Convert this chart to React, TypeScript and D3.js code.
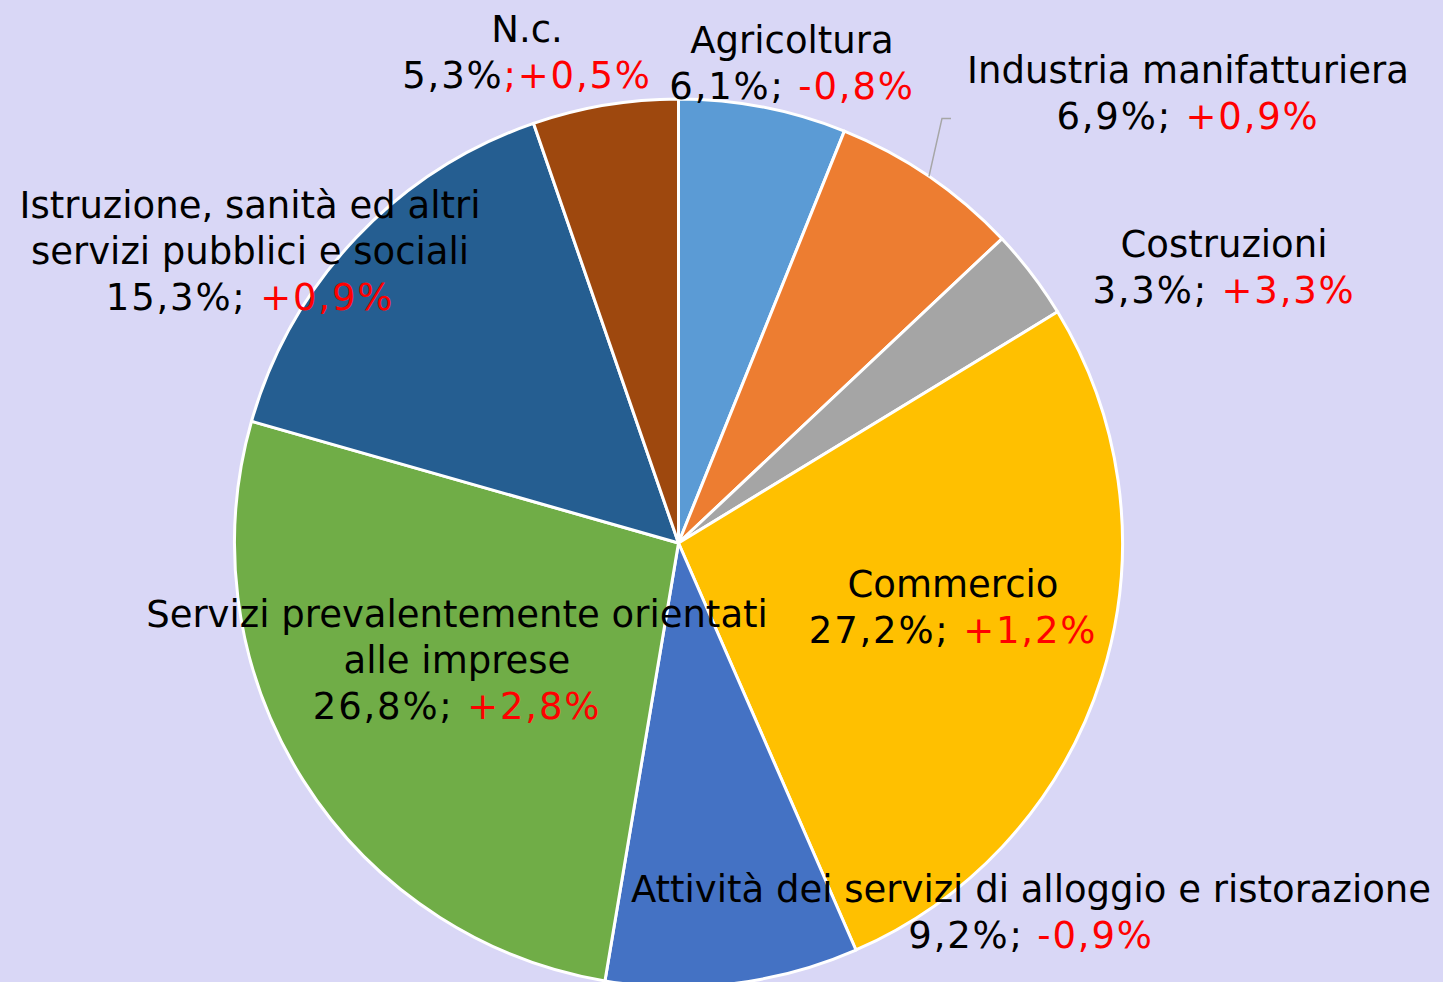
import React from 'react';
import * as d3 from 'd3';

// settori (ordine orario dall'alto)
const sectors = [
  'Agricoltura',
  'Industria manifatturiera',
  'Costruzioni',
  'Commercio',
  'Attività dei servizi di alloggio e ristorazione',
  'Servizi prevalentemente orientati alle imprese',
  'Istruzione, sanità ed altri servizi pubblici e sociali',
  'N.c.',
];
const shares = [6.1, 6.9, 3.3, 27.2, 9.2, 26.8, 15.3, 5.3];
const deltas = ['-0,8%', '+0,9%', '+3,3%', '+1,2%', '-0,9%', '+2,8%', '+0,9%', '+0,5%'];
const colors = ['#5B9BD5', '#ED7D31', '#A5A5A5', '#FFC000', '#4472C4', '#70AD47', '#255E91', '#9E480E'];

// etichette: righe del nome e separatore prima della variazione
const labelLines = [
  ['Agricoltura'],
  ['Industria manifatturiera'],
  ['Costruzioni'],
  ['Commercio'],
  ['Attività dei servizi di alloggio e ristorazione'],
  ['Servizi prevalentemente orientati', 'alle imprese'],
  ['Istruzione, sanità ed altri', 'servizi pubblici e sociali'],
  ['N.c.'],
];
const separators = ['; ', '; ', '; ', '; ', '; ', '; ', '; ', ';'];
const redSeparator = [false, false, false, false, false, false, false, true];

// layout delle etichette (centro x, baseline prima riga)
const labelPos: [number, number][] = [
  [792, 53],
  [1188, 83],
  [1224, 257],
  [953, 597],
  [1031, 902],
  [457, 627],
  [250, 218],
  [527, 42],
];

const W = 1443;
const H = 982;
const cx = 678.5;
const cy = 543;
const R = 444;
const lineH = 46;
const fmt = (v: number) => v.toFixed(1).replace('.', ',') + '%';

export default function App() {
  const pie = d3.pie<number>().sort(null).value((d) => d);
  const arcs = pie(shares);
  const arc = d3.arc<d3.PieArcDatum<number>>().innerRadius(0).outerRadius(R);

  // linea guida per Industria manifatturiera
  const ind = arcs[1];
  const mid = (ind.startAngle + ind.endAngle) / 2;
  const lx = cx + R * Math.sin(mid);
  const ly = cy - R * Math.cos(mid);

  return (
    <svg
      width={W}
      height={H}
      style={{ position: 'absolute', left: 0, top: 0, display: 'block' }}
      fontFamily="'DejaVu Sans', Verdana, sans-serif"
    >
      <rect width={W} height={H} fill="#D9D7F6" />
      <g transform={`translate(${cx},${cy})`}>
        {arcs.map((a, i) => (
          <path key={sectors[i]} d={arc(a) || ''} fill={colors[i]} stroke="#fff" strokeWidth={3} strokeLinejoin="round" />
        ))}
      </g>
      <polyline
        points={`${lx},${ly} ${lx + 13},${ly - 58} ${lx + 22},${ly - 58}`}
        fill="none"
        stroke="#A6A6A6"
        strokeWidth={1.5}
      />
      {labelLines.map((lines, i) => {
        const [x, y] = labelPos[i];
        return (
          <g key={sectors[i]}>
            <text x={x} y={y} textAnchor="middle" fontSize={37} fill="#000">
              {lines.map((l, j) => (
                <tspan key={j} x={x} y={y + j * lineH}>
                  {l}
                </tspan>
              ))}
            </text>
            <text x={x} y={y + lines.length * lineH} textAnchor="middle" fontSize={37} fill="#000" letterSpacing={1.8}>
              {fmt(shares[i])}
              <tspan fill={redSeparator[i] ? '#FF0000' : '#000'}>{separators[i]}</tspan>
              <tspan fill="#FF0000">{deltas[i]}</tspan>
            </text>
          </g>
        );
      })}
      <text x={1385} y={1004} fontSize={26} fill="#000">Fonte</text>
    </svg>
  );
}
